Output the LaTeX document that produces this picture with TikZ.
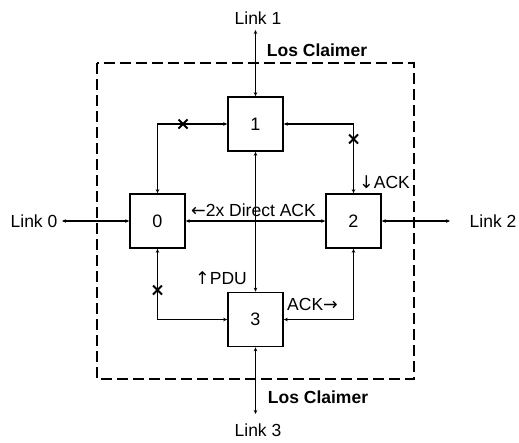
\documentclass[tikz,border=0pt]{standalone}
\usepackage{fontspec}
\setmainfont{Liberation Sans}
\newfontfamily\arrowfont{DejaVu Sans}
\usetikzlibrary{arrows.meta}
\begin{document}
\begin{tikzpicture}[x=1pt,y=-1pt,
  blk/.style={draw,line width=1.6pt,minimum width=55pt,minimum height=54pt,inner sep=0pt,font=\fontsize{18}{21}\selectfont},
  conn/.style={line width=1.5pt,{Stealth[length=4pt,width=3.5pt]}-{Stealth[length=4pt,width=3.5pt]}},
  lbl/.style={font=\fontsize{17.5}{21}\selectfont,inner sep=0pt},
  blbl/.style={font=\bfseries\fontsize{17.5}{21}\selectfont,inner sep=0pt},
  xmark/.style={line width=1.8pt}]
\useasboundingbox (0,0) rectangle (519,442);
\draw[line width=1.6pt,dash pattern=on 11pt off 5pt] (97,63) rectangle (414,379);
\node[blk] (b1) at (255.5,124) {1};
\node[blk] (b0) at (157.5,221) {0};
\node[blk] (b2) at (353.5,221) {2};
\node[blk] (b3) at (255.5,319.5) {3};
% external links
\coordinate (e1) at (255.5,30);
\coordinate (e0) at (62,221);
\coordinate (e2) at (450,221);
\coordinate (e3) at (255.5,414);
\draw[conn] (b1.north) -- (e1);
\draw[conn] (b0.west) -- (e0);
\draw[conn] (b2.east) -- (e2);
\draw[conn] (b3.south) -- (e3);
\node[lbl] (l1) at (258,18) {Link 1};
\node[lbl] (l0) at (34,221) {Link 0};
\node[lbl] (l2) at (493,221) {Link 2};
\node[lbl] (l3) at (258,430) {Link 3};
\node[blbl] (lc1) at (317,50) {Los Claimer};
\node[blbl] (lc2) at (318,397) {Los Claimer};
% internal connections
\draw[conn] (b1.west) -| (b0.north);
\draw[conn] (b1.east) -| (b2.north);
\draw[conn] (b3.west) -| (b0.south);
\draw[conn] (b3.east) -| (b2.south);
\draw[conn] (b1.south) -- (b3.north);
\draw[conn] (b0.east) -- (b2.west);
% x marks
\foreach \p in {(183,124),(353.5,139),(157.5,290)}{
  \draw[xmark] \p ++(-4.5,-4.5) -- ++(9,9);
  \draw[xmark] \p ++(-4.5,4.5) -- ++(9,-9);
}
% labels
\node[lbl,anchor=west] (ack2) at (359,182) {{\arrowfont ↓}ACK};
\node[lbl,anchor=west] (pdu) at (195,278) {{\arrowfont ↑}PDU};
\node[lbl,anchor=west] (ack3) at (287,304) {ACK{\arrowfont →}};
\node[lbl,anchor=west] (dack) at (191,210) {{\arrowfont ←}2x Direct ACK};
\end{tikzpicture}
\end{document}
